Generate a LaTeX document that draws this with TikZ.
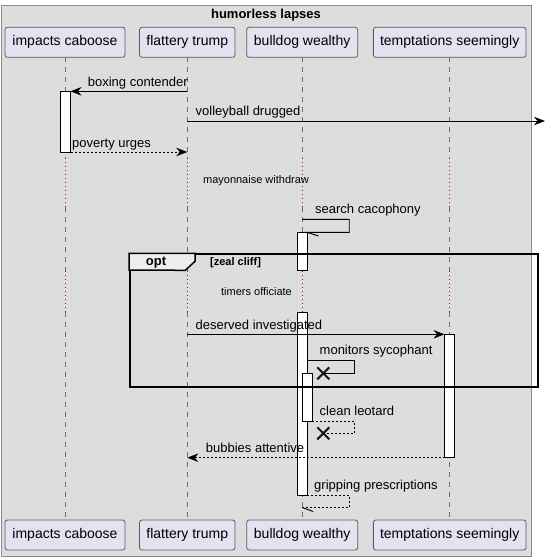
\documentclass[tikz,border=0pt]{standalone}
\usepackage{fontspec}
\setmainfont{Liberation Sans}
\usetikzlibrary{arrows.meta,shapes.misc}

\definecolor{bgGray}{HTML}{DDDDDD}
\definecolor{frameLine}{HTML}{8A8A8A}
\definecolor{partFill}{HTML}{E2E2F0}
\definecolor{partLine}{HTML}{5A5A5A}
\definecolor{lifeGray}{HTML}{6E6E6E}
\definecolor{delayRed}{HTML}{A0103A}
\definecolor{tabFill}{HTML}{EEEEEE}

\begin{document}
\begin{tikzpicture}[x=1pt,y=-1pt,
    part/.style={draw=partLine,fill=partFill,rounded corners=2.5pt,line width=0.8pt,
      minimum height=30pt,inner sep=0pt,outer sep=0pt,font=\fontsize{14}{16}\selectfont},
    life/.style={lifeGray,line width=0.8pt,dash pattern=on 5pt off 5pt},
    delayed/.style={delayRed,line width=1pt,dash pattern=on 1pt off 3pt},
    actbar/.style={draw=black,fill=white,line width=0.8pt,minimum width=10pt,
      inner sep=0pt,outer sep=0pt,anchor=north},
    msg/.style={line width=0.9pt,-{Stealth[length=11pt,width=8.5pt,inset=3.5pt]}},
    answer/.style={msg,dash pattern=on 2pt off 2pt},
    selfmsg/.style={line width=0.9pt},
    msgtext/.style={font=\fontsize{13}{15}\selectfont,inner sep=0pt,anchor=base west},
    delaytext/.style={font=\fontsize{11}{13}\selectfont,inner sep=0pt},
    killed/.style={cross out,draw=black!90,line width=2pt,minimum size=10pt,inner sep=0pt}]
                \useasboundingbox (0,0) rectangle (546,560);
                \draw[frameLine,fill=bgGray] (1,5) rectangle (531,556);
                \node[font=\bfseries\fontsize{13}{15}\selectfont] (title) at (266,15.5) {humorless lapses};
                \node[part,minimum width=120pt] (ic) at (65,42.3) {impacts caboose};
                \node[part,minimum width=95.5pt] (ft) at (187.3,42.3) {flattery trump};
                \node[part,minimum width=111pt] (bw) at (302.2,42.3) {bulldog wealthy};
                \node[part,minimum width=152.7pt] (ts) at (449.7,42.3) {temptations seemingly};
                \node[part,minimum width=120pt] (icB) at (65,535) {impacts caboose};
                \node[part,minimum width=95.5pt] (ftB) at (187.3,535) {flattery trump};
                \node[part,minimum width=111pt] (bwB) at (302.2,535) {bulldog wealthy};
                \node[part,minimum width=152.7pt] (tsB) at (449.7,535) {temptations seemingly};
                \coordinate (d1a) at (0,158);
                \coordinate (d1b) at (0,207);
                \coordinate (d2a) at (0,270.7);
                \coordinate (d2b) at (0,312);
                \draw[life] (ic.south) -- (ic.south |- d1a);
                \draw[delayed] (ic.south |- d1a) -- (ic.south |- d1b);
                \draw[life] (ic.south |- d1b) -- (ic.south |- d2a);
                \draw[delayed] (ic.south |- d2a) -- (ic.south |- d2b);
                \draw[life] (ic.south |- d2b) -- (icB.north);
                \draw[life] (ft.south) -- (ft.south |- d1a);
                \draw[delayed] (ft.south |- d1a) -- (ft.south |- d1b);
                \draw[life] (ft.south |- d1b) -- (ft.south |- d2a);
                \draw[delayed] (ft.south |- d2a) -- (ft.south |- d2b);
                \draw[life] (ft.south |- d2b) -- (ftB.north);
                \draw[life] (bw.south) -- (bw.south |- d1a);
                \draw[delayed] (bw.south |- d1a) -- (bw.south |- d1b);
                \draw[life] (bw.south |- d1b) -- (bw.south |- d2a);
                \draw[delayed] (bw.south |- d2a) -- (bw.south |- d2b);
                \draw[life] (bw.south |- d2b) -- (bwB.north);
                \draw[life] (ts.south) -- (ts.south |- d1a);
                \draw[delayed] (ts.south |- d1a) -- (ts.south |- d1b);
                \draw[life] (ts.south |- d1b) -- (ts.south |- d2a);
                \draw[delayed] (ts.south |- d2a) -- (ts.south |- d2b);
                \draw[life] (ts.south |- d2b) -- (tsB.north);
                \node[actbar,minimum height=60.7pt] (icAct) at (65.5,91.3) {};
                \node[actbar,minimum height=38.4pt] (bwActA) at (302,232.3) {};
                \node[actbar,minimum height=183.3pt] (bwActB) at (302.3,312) {};
                \node[actbar,minimum height=47.7pt] (bwActC) at (307.3,373.3) {};
                \node[actbar,minimum height=123.4pt] (tsAct) at (449.5,334.3) {};
                \draw[msg] (ft.south |- icAct.north) -- (icAct.north east);
                \coordinate (outR) at (545,121);
                \draw[msg] (ft.south |- outR) -- (outR);
                \draw[answer] (icAct.south east) -- (ft.south |- icAct.south);
                \coordinate (searchA) at (302.2,219.3);
                \draw[selfmsg] (bw.south |- searchA) -- ++(47,0) |- (bwActA.north east) -- ++(11.5,3.7);
                \draw[msg] (ft.south |- tsAct.north) -- (tsAct.north west);
                \node[killed] (kill1) at (323.3,373.3) {};
                \coordinate (monA) at (307.3,360.7);
                \draw[selfmsg] (monA) -- ++(46.7,0) |- (kill1.center);
                \node[killed] (kill2) at (323.3,433.3) {};
                \draw[selfmsg,dash pattern=on 2pt off 2pt] (bwActC.south east) -- ++(42,0) |- (kill2.center);
                \draw[answer] (tsAct.south west) -- (ft.south |- tsAct.south);
                \coordinate (gripB) at (302.2,507.5);
                \draw[selfmsg,dash pattern=on 2pt off 2pt] (bwActB.south east) -- ++(42.2,0) |- (gripB);
                \draw[selfmsg] (gripB) -- ++(11,4);
                \node[draw,line width=1.5pt,minimum width=408pt,minimum height=132.7pt,
                  inner sep=0pt,anchor=north west] (optBox) at (129,253.3) {};
                \draw[line width=1.5pt,fill=tabFill] (optBox.north west) -- ++(66,0) -- ++(0,8)
                  -- ++(-9.7,9) -- (optBox.west |- 0,270) -- cycle;
                \node[font=\bfseries\fontsize{13}{15}\selectfont] (optL) at (156,262.5) {opt};
                \node[font=\bfseries\fontsize{11}{13}\selectfont,anchor=west,inner sep=0pt] (zealL) at (210,262.5) {[zeal cliff]};
                \node[msgtext] (boxingL) at (87.7,86) {boxing contender};
                \node[msgtext] (volleyL) at (195.5,115.5) {volleyball drugged};
                \node[msgtext] (povertyL) at (72,147) {poverty urges};
                \node[delaytext] (mayoL) at (256,181) {mayonnaise withdraw};
                \node[msgtext] (searchL) at (315,213.3) {search cacophony};
                \node[delaytext] (timersL) at (256.5,291.5) {timers officiate};
                \node[msgtext] (deservedL) at (195.5,329.5) {deserved investigated};
                \node[msgtext] (monL) at (319.5,354.5) {monitors sycophant};
                \node[msgtext] (cleanL) at (319.5,415) {clean leotard};
                \node[msgtext] (bubbiesL) at (205.7,452.5) {bubbies attentive};
                \node[msgtext] (gripL) at (314,489.5) {gripping prescriptions};
            \end{tikzpicture}
\end{document}
